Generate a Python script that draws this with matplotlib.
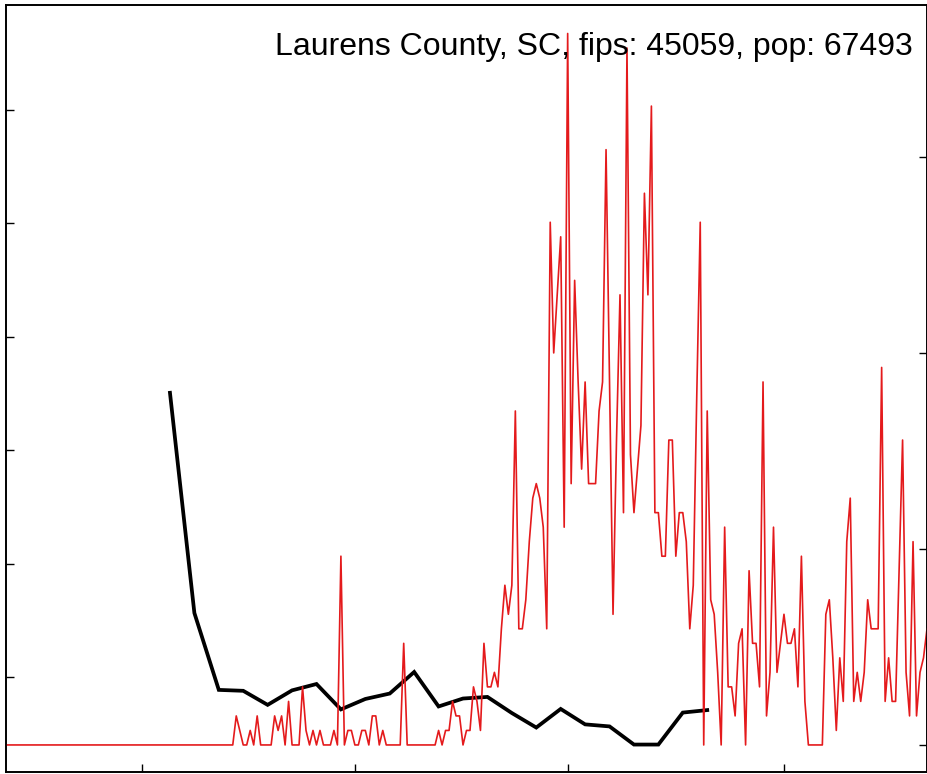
import matplotlib
matplotlib.use("Agg")
import matplotlib.pyplot as plt
import pandas as pd

TITLE = "Laurens County, SC, fips: 45059, pop: 67493"
POP = 67493
START = "2020-01-22"
END = "2020-10-12"

# daily new cases, starting 2020-01-22
daily_cases = [0] * 66 + [
    2, 1, 0, 0, 1, 0, 2, 0, 0, 0, 0, 2, 1, 2, 0, 3, 0, 0, 0, 4,
    1, 0, 1, 0, 1, 0, 0, 0, 1, 0, 13, 0, 1, 1, 0, 0, 1, 1, 0, 2,
    2, 0, 1, 0, 0, 0, 0, 0, 7, 0, 0, 0, 0, 0, 0, 0, 0, 0, 1, 0,
    1, 1, 3, 2, 2, 0, 1, 1, 4, 3, 1, 7, 4, 4, 5, 4, 8, 11, 9, 11,
    23, 8, 8, 10, 14, 17, 18, 17, 15, 8, 36, 27, 31, 35, 15, 49, 18, 32, 25, 19,
    25, 18, 18, 18, 23, 25, 41, 25, 9, 21, 31, 16, 48, 20, 16, 19, 22, 38, 31, 44,
    16, 16, 13, 13, 21, 21, 13, 16, 16, 14, 8, 11, 24, 36, 0, 23, 10, 9, 5, 0,
    15, 4, 4, 2, 7, 8, 0, 12, 7, 7, 4, 25, 2, 5, 15, 5, 7, 9, 7, 7,
    8, 4, 13, 3, 0, 0, 0, 0, 0, 9, 10, 6, 1, 6, 3, 14, 17, 3, 5, 3,
    5, 10, 8, 8, 8, 26, 3, 6, 3, 3, 12, 21, 5, 2, 14, 2, 5, 6, 8, 8,
]

# weekly series (left axis), starting 2020-03-09
WEEK_START = "2020-03-09"
weekly_vals = [17.53, 7.82, 4.43, 4.39, 3.77, 4.41, 4.69, 3.57, 4.03, 4.27,
               5.22, 3.70, 4.05, 4.12, 3.41, 2.77, 3.59, 2.91, 2.82, 2.02,
               2.02, 3.43, 3.54]

left_ticks = [5, 10, 15, 20, 25, 30]
right_ticks = [0, 20, 40, 60]
x_ticks = ["2020-03-01", "2020-05-01", "2020-07-01", "2020-09-01"]

days = pd.date_range(START, periods=len(daily_cases), freq="D")
weeks = pd.date_range(WEEK_START, periods=len(weekly_vals), freq="7D")
per100k = [c / POP * 1e5 for c in daily_cases]
xlim = (pd.Timestamp(START), pd.Timestamp(END))

plt.rcParams["font.family"] = ["Liberation Sans", "DejaVu Sans"]
fig = plt.figure(figsize=(9.28, 7.74), dpi=100)
ax = fig.add_axes([6 / 928, 2 / 774, 921 / 928, 767 / 774])
ax.plot(weeks, weekly_vals, color="black", lw=2.7, solid_joinstyle="miter")
ax.set_ylim(0.81, 34.63)
ax.set_xlim(*xlim)
ax.set_yticks(left_ticks)
ax.set_xticks(pd.to_datetime(x_ticks))
ax.tick_params(direction="in", length=6, width=1.0, labelleft=False, labelbottom=False)

# second series on its own scale (right axis)
ax2 = ax.twinx()
ax2.plot(days, per100k, color="#e41a1c", lw=1.2)
ax2.set_ylim(-2.76, 75.51)
ax2.set_yticks(right_ticks)
ax2.tick_params(direction="in", length=6, width=1.0, labelright=False)
ax2.set_xlim(*xlim)

for a in (ax, ax2):
    for s in a.spines.values():
        s.set_linewidth(1.2)

ax2.text(0.985, 0.935, TITLE, transform=ax2.transAxes, ha="right", va="baseline",
         fontsize=23)

fig.savefig("out.png", dpi=100)
